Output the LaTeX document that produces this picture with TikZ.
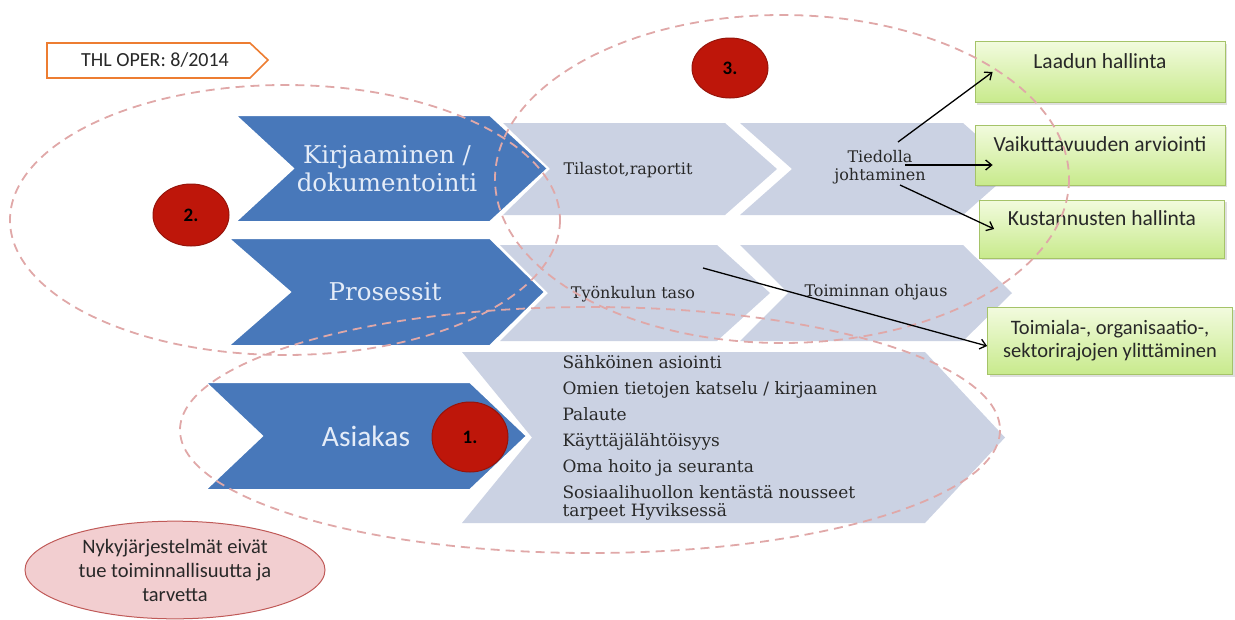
\documentclass[tikz,border=0pt]{standalone}
\usepackage{fontspec}
\newfontfamily\carl{Carlito}
\newfontfamily\dvserif{DejaVu Serif}
\usetikzlibrary{positioning,shapes.geometric,shadows,arrows.meta}

\definecolor{chevblue}{RGB}{72,120,186}
\definecolor{chevlight}{RGB}{203,210,227}
\definecolor{chevtext}{RGB}{228,236,248}
\definecolor{ringpink}{RGB}{224,168,168}
\definecolor{dotred}{RGB}{190,22,10}
\definecolor{dotedge}{RGB}{150,20,10}
\definecolor{greentop}{RGB}{242,251,222}
\definecolor{greenbot}{RGB}{200,234,140}
\definecolor{greenedge}{RGB}{165,195,105}
\definecolor{tagorange}{RGB}{237,125,49}
\definecolor{notepink}{RGB}{242,206,208}
\definecolor{noteedge}{RGB}{192,90,88}
\definecolor{darktext}{RGB}{40,40,40}

% left, notch, corner, tip, top, bottom
\newcommand{\chevron}[6]{(#1,#5) -- (#3,#5) -- (#4,{(#5+#6)/2}) -- (#3,#6) -- (#1,#6) -- (#2,{(#5+#6)/2}) -- cycle}

\begin{document}
\begin{tikzpicture}[x=1pt, y=-1pt,
    bluechev/.style={fill=chevblue, draw=white, line width=2pt},
    lightchev/.style={fill=chevlight},
    bluetext/.style={text=chevtext, font=\dvserif\fontsize{24.5}{28}\selectfont, align=center},
    graytext/.style={text=darktext, font=\dvserif\fontsize{16}{18}\selectfont, align=center},
    ring/.style={draw=ringpink, line width=1.8pt, dash pattern=on 9pt off 6pt},
    reddot/.style={ellipse, fill=dotred, draw=dotedge, line width=1pt, minimum width=76pt, font=\carl\bfseries\fontsize{19}{21}\selectfont},
    greenbox/.style={rectangle, top color=greentop, bottom color=greenbot, draw=greenedge, line width=0.8pt,
      drop shadow={opacity=0.25, shadow xshift=2pt, shadow yshift=-2pt},
      text=darktext, font=\carl\fontsize{21.5}{24}\selectfont, align=center},
    toptext/.style={text depth=22pt},
    link/.style={-{Straight Barb[length=6pt,width=10pt]}, line width=1.3pt, black}]
  \useasboundingbox (0,0) rectangle (1235,619);

  % tag
  \draw[draw=tagorange, fill=white, line width=1.6pt] (47,43) -- (250,43) -- (268,60) -- (250,78) -- (47,78) -- cycle;
  \node[text=darktext, font=\carl\fontsize{20}{22}\selectfont] (tag) at (155,60) {THL OPER: 8/2014};

  % light chevrons
  \fill[lightchev] \chevron{503}{550}{725}{777}{123}{215};
  \fill[lightchev] \chevron{740}{792}{963}{1015}{123}{215};
  \fill[lightchev] \chevron{500}{548}{717}{770}{245}{341};
  \fill[lightchev] \chevron{740}{788}{963}{1012}{245}{341};
  \fill[lightchev] \chevron{462}{532}{925}{1005}{352}{523};

  % blue chevrons
  \filldraw[bluechev] \chevron{235}{293}{490}{548}{115}{222};
  \filldraw[bluechev] \chevron{228}{290}{490}{545}{238}{346};
  \filldraw[bluechev] \chevron{205}{262}{470}{527}{382}{490};

  \node[bluetext] (kirj) at (387,169) {Kirjaaminen /\\dokumentointi};
  \node[bluetext] (pros) at (385,292) {Prosessit};
  \node[bluetext, font=\carl\fontsize{29.5}{31}\selectfont] (asia) at (366,436) {Asiakas};

  \node[graytext] (tila) at (628,170) {Tilastot,raportit};
  \node[graytext] (tied) at (880,167) {Tiedolla\\johtaminen};
  \node[graytext] (tyon) at (633,294) {Työnkulun taso};
  \node[graytext] (toim) at (876,292) {Toiminnan ohjaus};
  \node[graytext, align=left, anchor=north west, font=\dvserif\fontsize{17}{18}\selectfont] (lista) at (559,352)
    {Sähköinen asiointi\\[8pt]
     Omien tietojen katselu / kirjaaminen\\[8pt]
     Palaute\\[8pt]
     Käyttäjälähtöisyys\\[8pt]
     Oma hoito ja seuranta\\[8pt]
     Sosiaalihuollon kentästä nousseet\\
     tarpeet Hyviksessä};

  % green boxes
  \node[greenbox, toptext, minimum width=250pt, minimum height=61pt] (laadun) at (1100,72) {Laadun hallinta};
  \node[greenbox, toptext, minimum width=250pt, minimum height=60pt] (vaik) at (1100,155) {Vaikuttavuuden arviointi};
  \node[greenbox, toptext, minimum width=245pt, minimum height=58pt] (kust) at (1102,229) {Kustannusten hallinta};
  \node[greenbox, font=\carl\fontsize{20.5}{23}\selectfont, minimum width=245pt, minimum height=67pt] (rajat) at (1110,341) {Toimiala-, organisaatio-,\\sektorirajojen ylittäminen};

  % dashed rings
  \draw[ring] (285,220) ellipse [x radius=275, y radius=135];
  \draw[ring] (782,179) ellipse [x radius=287, y radius=164];
  \draw[ring] (590,430) ellipse [x radius=410, y radius=123];

  % numbers
  \node[reddot, minimum height=62pt] (dot2) at (191,215) {2.};
  \node[reddot, minimum height=60pt] (dot3) at (730,68) {3.};
  \node[reddot, minimum height=70pt] (dot1) at (470,437) {1.};

  % note
  \node[ellipse, fill=notepink, draw=noteedge, line width=1pt, minimum width=300pt, minimum height=96pt,
    text=darktext, font=\carl\fontsize{20.5}{24}\selectfont, align=center] (note) at (175,570)
    {Nykyjärjestelmät eivät\\tue toiminnallisuutta ja\\tarvetta};

  % arrows
  \coordinate (j1) at (898,142);
  \coordinate (j2) at (905,165);
  \coordinate (j3) at (900,185);
  \coordinate (w1) at (703,268);
  \draw[link] (j1) -- ([xshift=18pt]laadun.west);
  \draw[link] (j2) -- ([xshift=18pt,yshift=-10pt]vaik.west);
  \draw[link] (j3) -- ([xshift=15pt]kust.west);
  \draw[link] (w1) -- ([yshift=-5pt]rajat.west);
\end{tikzpicture}
\end{document}
